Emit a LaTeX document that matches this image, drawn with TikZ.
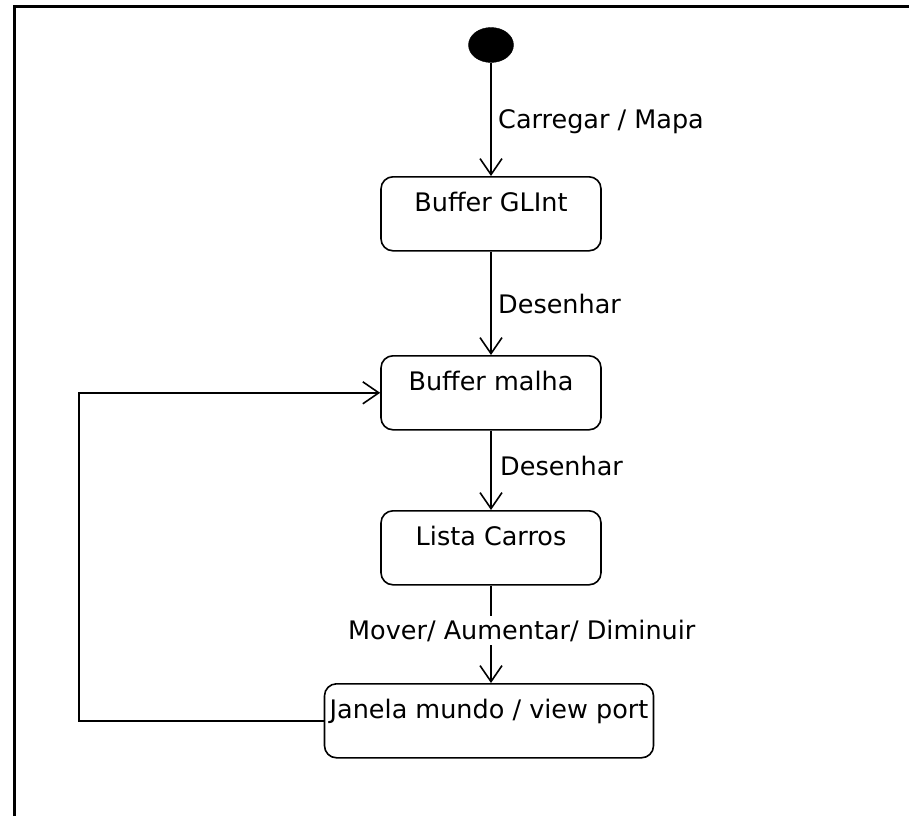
\documentclass[tikz,border=0pt]{standalone}
\usepackage{fontspec}
\setmainfont{DejaVu Sans}
\usetikzlibrary{arrows.meta,shapes.geometric}

\tikzset{
  statebox/.style={draw=black, line width=1.6pt, rounded corners=12pt,
    minimum width=220pt, inner sep=0pt, text height=35pt, text depth=39pt,
    anchor=north, font=\fontsize{25.5}{30}\selectfont},
  initial/.style={ellipse, fill=black, draw=black, minimum width=45pt,
    minimum height=35pt, inner sep=0pt},
  trans/.style={line width=1.6pt, -{Straight Barb[length=16pt,width=22pt,line width=1.6pt]}},
  translabel/.style={anchor=base west, inner sep=0pt, font=\fontsize{25.5}{30}\selectfont},
  frameline/.style={line width=3pt}
}

\begin{document}
\begin{tikzpicture}[x=1pt,y=-1pt]
  \useasboundingbox (0,0) rectangle (909,816);

  % page frame (top and left edges)
  \draw[frameline] (14,816) -- (14,7) -- (909,7);

  % states
  \node[initial] (init) at (491,45) {};
  \node[statebox] (glint) at (491,176) {Buffer GLInt};
  \node[statebox] (malha) at (491,355) {Buffer malha};
  \node[statebox] (lista) at (491,510) {Lista Carros};
  \node[statebox, minimum width=329pt] (janela) at (489,683) {Janela mundo / view port};

  % transitions
  \draw[trans] (init.south) -- (glint.north);
  \draw[trans] (glint.south) -- (malha.north);
  \draw[trans] (malha.south) -- (lista.north);
  \draw[trans] (lista.south) -- (lista.south |- janela.north);

  % loop back from the view port to the mesh buffer
  \coordinate (loopx) at (79,0);
  \draw[trans] (janela.west) -- (janela.west -| loopx) |- (malha.west);

  % transition labels
  \node[translabel] (lcarregar) at (498,128) {Carregar / Mapa};
  \node[translabel] (ldesenhar1) at (498,313) {Desenhar};
  \node[translabel] (ldesenhar2) at (500,475) {Desenhar};
  \node[translabel, fill=white, inner ysep=4pt] (lmover) at (348,639) {Mover/ Aumentar/ Diminuir};
\end{tikzpicture}
\end{document}
